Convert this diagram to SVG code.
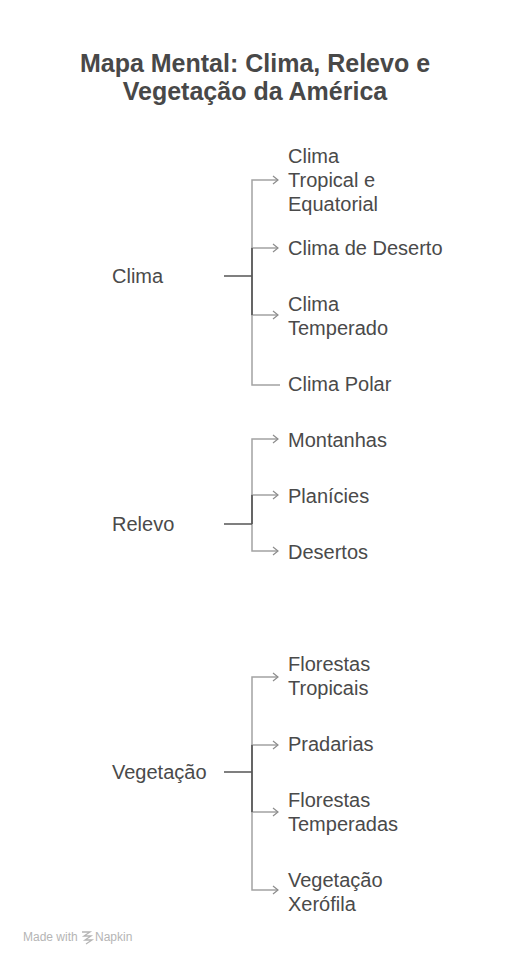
<svg xmlns="http://www.w3.org/2000/svg" width="516" height="965" viewBox="0 0 516 965">
<defs>
<marker id="arr" markerWidth="10" markerHeight="10" refX="8" refY="5" orient="auto" markerUnits="userSpaceOnUse">
<path d="M3,1 L8,5 L3,9" fill="none" stroke="#8c8c8c" stroke-width="1.2"/>
</marker>
<style>
.t{font-family:"Liberation Sans",Arial,sans-serif;font-size:20px;fill:#4a4a4a}
.title{font-family:"Liberation Sans",Arial,sans-serif;font-size:25px;font-weight:bold;fill:#484848;text-anchor:middle}
.br{fill:none;stroke:#a3a3a3;stroke-width:1.5}
.rt{fill:none;stroke:#555;stroke-width:1.6}
.foot{font-family:"Liberation Sans",Arial,sans-serif;font-size:12px;fill:#b5b5b5}
</style>
</defs>
<rect width="516" height="965" fill="#fff"/>
<g id="title">
<text class="title" x="255" y="72">Mapa Mental: Clima, Relevo e</text>
<text class="title" x="255" y="100">Vegetação da América</text>
</g>
<g id="connectors">
<!-- Clima -->
<path class="br" d="M252,276 V180 H278" marker-end="url(#arr)"/>
<path class="br" d="M252,276 V248 H278" marker-end="url(#arr)"/>
<path class="br" d="M252,276 V315 H278" marker-end="url(#arr)"/>
<path class="br" d="M252,276 V385 H280"/>
<path class="rt" d="M224,276 H252 M252,248 V315"/>
<!-- Relevo -->
<path class="br" d="M252,524 V439 H278" marker-end="url(#arr)"/>
<path class="br" d="M252,524 V495 H278" marker-end="url(#arr)"/>
<path class="br" d="M252,524 V551 H278" marker-end="url(#arr)"/>
<path class="rt" d="M224,524 H252 M252,495 V524"/>
<!-- Vegetação -->
<path class="br" d="M252,772 V677 H278" marker-end="url(#arr)"/>
<path class="br" d="M252,772 V745 H278" marker-end="url(#arr)"/>
<path class="br" d="M252,772 V812 H278" marker-end="url(#arr)"/>
<path class="br" d="M252,772 V890 H278" marker-end="url(#arr)"/>
<path class="rt" d="M224,772 H252 M252,745 V812"/>
</g>
<g id="clima"><text class="t" x="112" y="283">Clima</text></g>
<g id="clima-tropical"><text class="t" x="288" y="163">Clima</text><text class="t" x="288" y="187">Tropical e</text><text class="t" x="288" y="211">Equatorial</text></g>
<g id="clima-deserto"><text class="t" x="288" y="255">Clima de Deserto</text></g>
<g id="clima-temperado"><text class="t" x="288" y="311">Clima</text><text class="t" x="288" y="335">Temperado</text></g>
<g id="clima-polar"><text class="t" x="288" y="391">Clima Polar</text></g>
<g id="relevo"><text class="t" x="112" y="531">Relevo</text></g>
<g id="montanhas"><text class="t" x="288" y="447">Montanhas</text></g>
<g id="planicies"><text class="t" x="288" y="503">Planícies</text></g>
<g id="desertos"><text class="t" x="288" y="559">Desertos</text></g>
<g id="vegetacao"><text class="t" x="112" y="779">Vegetação</text></g>
<g id="florestas-tropicais"><text class="t" x="288" y="671">Florestas</text><text class="t" x="288" y="695">Tropicais</text></g>
<g id="pradarias"><text class="t" x="288" y="751">Pradarias</text></g>
<g id="florestas-temperadas"><text class="t" x="288" y="807">Florestas</text><text class="t" x="288" y="831">Temperadas</text></g>
<g id="vegetacao-xerofila"><text class="t" x="288" y="887">Vegetação</text><text class="t" x="288" y="911">Xerófila</text></g>
<g id="footer">
<text class="foot" x="23" y="941">Made with</text>
<path d="M82,932 H90 L84,936 H91 L85,940 H92 L86,944" fill="none" stroke="#b5b5b5" stroke-width="1.3"/>
<text class="foot" x="95" y="941">Napkin</text>
</g>
</svg>
